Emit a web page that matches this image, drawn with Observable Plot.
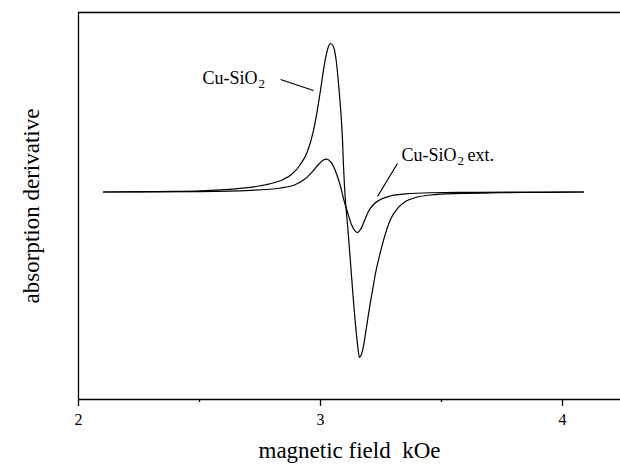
<!DOCTYPE html>
<html><head><meta charset="utf-8">
<script src="https://cdn.jsdelivr.net/npm/d3@7"></script>
<script src="https://cdn.jsdelivr.net/npm/@observablehq/plot@0.6"></script>
<style>
body{margin:0;background:#fff}
#chart svg, #chart svg text{font-family:"Liberation Serif","Tinos","DejaVu Serif","Times New Roman",serif !important;}
</style>
</head><body><div id="chart"></div>
<script>
// Cu-SiO2 (large signal)
const fieldA = [2.103,2.298,2.400,2.504,2.587,2.650,2.700,2.752,2.800,2.850,2.880,2.917,2.946,2.971,2.988,3.000,3.012,3.025,3.033,3.041,3.050,3.058,3.066,3.074,3.083,3.091,3.095,3.099,3.103,3.112,3.124,3.136,3.149,3.157,3.161,3.169,3.178,3.190,3.202,3.215,3.227,3.244,3.260,3.289,3.322,3.351,3.393,3.455,3.579,3.744,3.950,4.087];
const signalA = [0.000,0.002,0.004,0.008,0.014,0.021,0.029,0.042,0.059,0.088,0.118,0.185,0.273,0.414,0.562,0.684,0.818,0.933,0.980,1.000,0.990,0.953,0.872,0.737,0.562,0.347,0.178,0.044,-0.057,-0.226,-0.475,-0.730,-0.966,-1.081,-1.114,-1.094,-1.034,-0.912,-0.785,-0.663,-0.549,-0.428,-0.327,-0.185,-0.104,-0.064,-0.037,-0.020,-0.010,-0.005,-0.002,0.000];
// Cu-SiO2 ext. (small signal)
const fieldB = [2.103,2.504,2.711,2.835,2.897,2.938,2.971,2.996,3.012,3.025,3.037,3.054,3.070,3.083,3.095,3.112,3.128,3.141,3.153,3.165,3.182,3.198,3.219,3.248,3.289,3.351,3.455,3.661,4.087];
const signalB = [0.000,0.003,0.011,0.027,0.051,0.091,0.145,0.192,0.215,0.222,0.212,0.172,0.104,0.037,-0.044,-0.138,-0.219,-0.259,-0.273,-0.253,-0.192,-0.131,-0.084,-0.051,-0.027,-0.013,-0.005,-0.002,0.000];

const xTicks = [2, 3, 4];
const xMinorTicks = [2.5, 3.5];
const xDomain = [2, 4.2397];
const yDomain = [-1.3973, 1.2088];

// annotation labels: main part, subscript, suffix
const labelMain = ["Cu-SiO", "Cu-SiO"];
const labelSub = ["2", "2"];
const labelSuffix = ["", "ext."];
const labelX = [2.512, 3.335];
const labelY = [0.7306, 0.2121];
const leaderX1 = [2.835, 3.318];
const leaderY1 = [0.7576, 0.1919];
const leaderX2 = [2.971, 3.2355];
const leaderY2 = [0.6835, -0.0303];

const xAxisLabel = "magnetic field\u00a0 kOe";
const yAxisLabel = "absorption derivative";

const font = "'Liberation Serif', 'Tinos', 'DejaVu Serif', 'Times New Roman', serif";

const rowsA = fieldA.map((x, i) => ({x, y: signalA[i]}));
const rowsB = fieldB.map((x, i) => ({x, y: signalB[i]}));
const labels = labelMain.map((t, i) => ({t, s: labelSub[i], e: labelSuffix[i], x: labelX[i], y: labelY[i]}));
const leaders = leaderX1.map((x1, i) => ({x1, y1: leaderY1[i], x2: leaderX2[i], y2: leaderY2[i]}));

const plot = Plot.plot({
  width: 620,
  height: 467,
  marginLeft: 78,
  marginRight: 0,
  marginTop: 12,
  marginBottom: 68,
  style: `font-family: ${font}; font-size: 16px; color: black; background: white;`,
  x: {domain: xDomain},
  y: {domain: yDomain, axis: null},
  marks: [
    Plot.ruleY([yDomain[1], yDomain[0]], {stroke: "black", strokeWidth: 1.3}),
    Plot.ruleX([xDomain[0]], {stroke: "black", strokeWidth: 1.3}),
    Plot.axisX(xTicks, {tickSize: 7, tickPadding: 7, fontSize: 16, fontFamily: font, tickFormat: d => String(d), label: null, strokeWidth: 1.3}),
    Plot.axisX(xMinorTicks, {tickSize: 3, tickFormat: () => "", label: null, strokeWidth: 1.3}),
    Plot.line(rowsA, {x: "x", y: "y", stroke: "black", strokeWidth: 1.2, curve: "monotone-x"}),
    Plot.line(rowsB, {x: "x", y: "y", stroke: "black", strokeWidth: 1.2, curve: "monotone-x"}),
    Plot.link(leaders, {x1: "x1", y1: "y1", x2: "x2", y2: "y2", stroke: "black", strokeWidth: 1.2}),
    Plot.text(labels, {x: "x", y: "y", text: "t", textAnchor: "start", lineAnchor: "bottom", fontSize: 18, fontFamily: font, fill: "black"}),
    Plot.text(labels, {x: "x", y: "y", text: "s", textAnchor: "start", lineAnchor: "bottom", dx: 56, dy: 4, fontSize: 13, fontFamily: font, fill: "black"}),
    Plot.text(labels, {x: "x", y: "y", text: "e", textAnchor: "start", lineAnchor: "bottom", dx: 66, fontSize: 18, fontFamily: font, fill: "black"}),
    Plot.text([xAxisLabel], {frameAnchor: "bottom", dy: 58, text: d => d, textAnchor: "middle", fontSize: 23, fontFamily: font, fill: "black"}),
    Plot.text([yAxisLabel], {frameAnchor: "left", dx: -47, rotate: -90, textAnchor: "middle", lineAnchor: "middle", text: d => d, fontSize: 23, fontFamily: font, fill: "black"})
  ]
});

document.getElementById("chart").appendChild(plot);
</script>
</body></html>
